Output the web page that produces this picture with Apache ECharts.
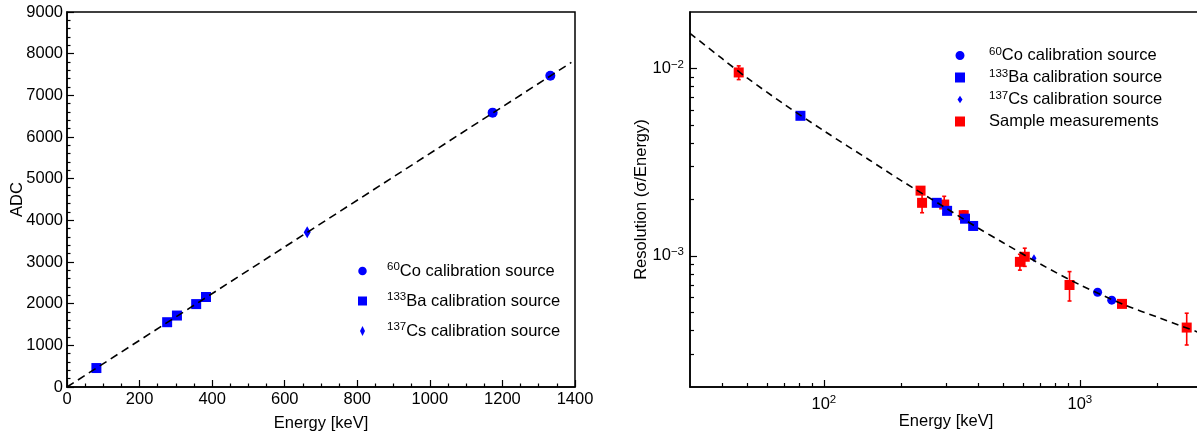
<!DOCTYPE html>
<html>
<head>
<meta charset="utf-8">
<script src="https://cdn.jsdelivr.net/npm/echarts@6/dist/echarts.min.js"></script>
<style>
  html, body { margin: 0; padding: 0; background: #ffffff; }
  #chart { width: 1197px; height: 432px; }
</style>
</head>
<body>
<div id="chart"></div>
<script>
// ---- Left panel: ADC vs. energy calibration ----
const co60Energy = [1173, 1332];
const co60Adc = [6585, 7470];
const ba133Energy = [81, 276, 303, 356, 383];
const ba133Adc = [455, 1555, 1715, 1990, 2160];
const cs137Energy = [662];
const cs137Adc = [3712];
const calibFitEnergy = [0, 1390];
const calibFitAdc = [0, 7790];

// ---- Right panel: energy resolution (sigma / E) ----
const co60Res = [6.40e-4, 5.81e-4];
const ba133Res = [5.59e-3, 1.92e-3, 1.74e-3, 1.58e-3, 1.445e-3];
const cs137Res = [9.72e-4];
const sampleEnergy = [46.5, 238.6, 241.9, 295.2, 351.9, 583.2, 609.3, 911.2, 1460.8, 2614.5];
const sampleRes = [9.52e-3, 2.23e-3, 1.92e-3, 1.88e-3, 1.65e-3, 9.3e-4, 9.9e-4, 7.0e-4, 5.55e-4, 4.15e-4];
const sampleErr = [0.8e-3, 0.05e-3, 0.22e-3, 0.2e-3, 0.09e-3, 0.09e-3, 0.11e-3, 1.25e-4, 0.015e-3, 0.8e-4];
const resFitEnergy = [30, 40, 50, 70, 100, 150, 200, 300, 400, 500, 700, 1000, 1500, 2000, 3000];
const resFitRes = [1.54e-2, 1.13e-2, 8.93e-3, 6.44e-3, 4.65e-3, 3.26e-3, 2.53e-3, 1.80e-3,
                   1.41e-3, 1.18e-3, 9.06e-4, 7.02e-4, 5.47e-4, 4.73e-4, 3.85e-4];

// ---- Tick values for the logarithmic axes ----
const logXMajor = [100, 1000];
const logXMinor = [40, 50, 60, 70, 80, 90, 200, 300, 400, 500, 600, 700, 800, 900, 2000];
const logYMajor = [1e-3, 1e-2];
const logYMinor = [3e-4, 4e-4, 5e-4, 6e-4, 7e-4, 8e-4, 9e-4,
                   2e-3, 3e-3, 4e-3, 5e-3, 6e-3, 7e-3, 8e-3, 9e-3];

// ---- Legend entries ----
const sourceNames = {
  co60: ['60', 'Co calibration source'],
  ba133: ['133', 'Ba calibration source'],
  cs137: ['137', 'Cs calibration source']
};

const FONT = "'Liberation Sans', Arial, Helvetica, sans-serif";
const FS = 16.5;
const BLUE = '#0000ff';
const RED = '#ff0000';

const zip = (xs, ys) => xs.map((x, i) => [x, ys[i]]);

const supRich = {
  base: { fontSize: FS, fontFamily: FONT, color: '#000', lineHeight: 20 },
  sup: { fontSize: 11.5, fontFamily: FONT, color: '#000', lineHeight: 11, verticalAlign: 'top' }
};

function legendText(name) {
  if (name === 'Sample measurements') return '{base|Sample measurements}';
  const key = name.split(' ')[0];
  const parts = sourceNames[key];
  return '{sup|' + parts[0] + '}{base|' + parts[1] + '}';
}

function powerLabel(v) {
  const e = Math.round(Math.log10(v));
  const s = e < 0 ? '\u2212' + (-e) : String(e);
  return '{base|10}{sup|' + s + '}';
}

const plainNumber = (v) => String(v);

const diamondPath = 'path://M2.5,0L5,5L2.5,10L0,5Z';

const axisCommon = {
  axisLine: { show: true, lineStyle: { color: '#000', width: 1.5 } },
  splitLine: { show: false },
  nameTextStyle: { fontSize: FS, fontFamily: FONT, color: '#000' },
  nameLocation: 'middle',
  nameMoveOverlap: false
};

const option = {
  backgroundColor: '#ffffff',
  animation: false,
  textStyle: { fontFamily: FONT },
  grid: [
    { left: 67, top: 12, width: 508, height: 375, outerBoundsMode: 'none', containLabel: false,
      show: true, borderColor: '#000', borderWidth: 1.5, backgroundColor: 'transparent' },
    { left: 690, top: 12, width: 512, height: 375, outerBoundsMode: 'none', containLabel: false,
      show: true, borderColor: '#000', borderWidth: 1.5, backgroundColor: 'transparent' }
  ],
  xAxis: [
    Object.assign({}, axisCommon, {
      gridIndex: 0, type: 'value', min: 0, max: 1400, interval: 200,
      name: 'Energy [keV]', nameGap: 28,
      axisTick: { show: true, inside: true, length: 7, lineStyle: { color: '#000', width: 1.2 } },
      minorTick: { show: true, splitNumber: 4, length: 3.5, lineStyle: { color: '#000', width: 1.2 } },
      axisLabel: { fontSize: FS, fontFamily: FONT, color: '#000', margin: 4, formatter: plainNumber }
    }),
    Object.assign({}, axisCommon, {
      gridIndex: 1, type: 'log', logBase: 10, min: 30, max: 3000, position: 'bottom',
      name: 'Energy [keV]', nameGap: 26,
      axisTick: { show: true, inside: true, length: 7, customValues: logXMajor, lineStyle: { color: '#000', width: 1.2 } },
      axisLabel: { show: true, customValues: logXMajor, margin: 7, formatter: powerLabel, rich: supRich },
      minorTick: { show: false }
    }),
    {
      gridIndex: 1, type: 'log', logBase: 10, min: 30, max: 3000, position: 'bottom',
      axisLine: { show: false }, splitLine: { show: false }, axisLabel: { show: false },
      axisTick: { show: true, inside: true, length: 4, customValues: logXMinor, lineStyle: { color: '#000', width: 1.2 } }
    }
  ],
  yAxis: [
    Object.assign({}, axisCommon, {
      gridIndex: 0, type: 'value', min: 0, max: 9000, interval: 1000,
      name: 'ADC', nameGap: 41,
      axisTick: { show: true, inside: true, length: 7, lineStyle: { color: '#000', width: 1.2 } },
      minorTick: { show: true, splitNumber: 5, length: 3.5, lineStyle: { color: '#000', width: 1.2 } },
      axisLabel: { fontSize: FS, fontFamily: FONT, color: '#000', margin: 4, formatter: plainNumber }
    }),
    Object.assign({}, axisCommon, {
      gridIndex: 1, type: 'log', logBase: 10, min: 2e-4, max: 2e-2, position: 'left',
      name: 'Resolution (\u03c3/Energy)', nameGap: 40,
      axisTick: { show: true, inside: true, length: 7, customValues: logYMajor, lineStyle: { color: '#000', width: 1.2 } },
      axisLabel: { show: true, customValues: logYMajor, margin: 6, formatter: powerLabel, rich: supRich },
      minorTick: { show: false }
    }),
    {
      gridIndex: 1, type: 'log', logBase: 10, min: 2e-4, max: 2e-2, position: 'left',
      axisLine: { show: false }, splitLine: { show: false }, axisLabel: { show: false },
      axisTick: { show: true, inside: true, length: 4, customValues: logYMinor, lineStyle: { color: '#000', width: 1.2 } }
    }
  ],
  legend: [
    {
      orient: 'vertical', left: 358, top: 261, padding: 0,
      itemWidth: 39, itemHeight: 10, itemGap: 10,
      selectedMode: false, symbolKeepAspect: true,
      itemStyle: { borderWidth: 0 },
      textStyle: { fontSize: FS, fontFamily: FONT, color: '#000', lineHeight: 20, rich: supRich },
      formatter: legendText,
      data: [
        { name: 'co60 left', icon: 'path://M4.25,-0.75L4.25,9.25M0,4.25A4.25,4.25,0,1,1,8.5,4.25A4.25,4.25,0,1,1,0,4.25Z' },
        { name: 'ba133 left', icon: 'path://M4.5,-0.5L4.5,9.5M0,0H9V9H0Z' },
        { name: 'cs137 left', icon: diamondPath }
      ]
    },
    {
      orient: 'vertical', left: 955, top: 45.5, padding: 0,
      itemWidth: 48, itemHeight: 10, itemGap: 2,
      selectedMode: false, symbolKeepAspect: true,
      itemStyle: { borderWidth: 0 },
      textStyle: { fontSize: FS, fontFamily: FONT, color: '#000', lineHeight: 20, rich: supRich },
      formatter: legendText,
      data: [
        { name: 'co60 right', icon: 'path://M4.5,-0.5L4.5,9.5M0,4.5A4.5,4.5,0,1,1,9,4.5A4.5,4.5,0,1,1,0,4.5Z' },
        { name: 'ba133 right', icon: 'path://M0,0H10V10H0Z' },
        { name: 'cs137 right', icon: 'path://M2.5,-1.25L2.5,8.75M2.5,0L5,3.75L2.5,7.5L0,3.75Z' },
        { name: 'Sample measurements', icon: 'path://M0,0H10V10H0Z' }
      ]
    }
  ],
  series: [
    // Left panel
    {
      name: 'calibration fit', type: 'line', xAxisIndex: 0, yAxisIndex: 0,
      data: zip(calibFitEnergy, calibFitAdc), showSymbol: false, silent: true,
      lineStyle: { color: '#000', width: 1.6, type: [8, 5] }
    },
    {
      name: 'co60 left', type: 'scatter', xAxisIndex: 0, yAxisIndex: 0,
      data: zip(co60Energy, co60Adc), symbol: 'circle', symbolSize: 10,
      itemStyle: { color: BLUE, opacity: 1 }
    },
    {
      name: 'ba133 left', type: 'scatter', xAxisIndex: 0, yAxisIndex: 0,
      data: zip(ba133Energy, ba133Adc), symbol: 'rect', symbolSize: 10,
      itemStyle: { color: BLUE, opacity: 1 }
    },
    {
      name: 'cs137 left', type: 'scatter', xAxisIndex: 0, yAxisIndex: 0,
      data: zip(cs137Energy, cs137Adc), symbol: diamondPath, symbolSize: [7, 12],
      itemStyle: { color: BLUE, opacity: 1 }
    },
    // Right panel
    {
      name: 'resolution fit', type: 'line', xAxisIndex: 1, yAxisIndex: 1,
      data: zip(resFitEnergy, resFitRes), showSymbol: false, smooth: 0.3, silent: true,
      lineStyle: { color: '#000', width: 1.6, type: [7, 5] }
    },
    {
      name: 'sample errors', type: 'custom', xAxisIndex: 1, yAxisIndex: 1,
      data: sampleEnergy.map((e, i) => [e, sampleRes[i], sampleErr[i]]),
      encode: { x: 0, y: 1 }, silent: true,
      renderItem: function (params, api) {
        const x = api.value(0), y = api.value(1), err = api.value(2);
        const hi = api.coord([x, y + err]);
        const lo = api.coord([x, y - err]);
        const cap = 2;
        const st = { stroke: RED, lineWidth: 1.6 };
        return {
          type: 'group',
          children: [
            { type: 'line', shape: { x1: hi[0], y1: hi[1], x2: lo[0], y2: lo[1] }, style: st },
            { type: 'line', shape: { x1: hi[0] - cap, y1: hi[1], x2: hi[0] + cap, y2: hi[1] }, style: st },
            { type: 'line', shape: { x1: lo[0] - cap, y1: lo[1], x2: lo[0] + cap, y2: lo[1] }, style: st }
          ]
        };
      }
    },
    {
      name: 'Sample measurements', type: 'scatter', xAxisIndex: 1, yAxisIndex: 1,
      data: zip(sampleEnergy, sampleRes), symbol: 'rect', symbolSize: 10,
      itemStyle: { color: RED, opacity: 1 }
    },
    {
      name: 'co60 right', type: 'scatter', xAxisIndex: 1, yAxisIndex: 1,
      data: zip(co60Energy, co60Res), symbol: 'circle', symbolSize: 9,
      itemStyle: { color: BLUE, opacity: 1 }
    },
    {
      name: 'ba133 right', type: 'scatter', xAxisIndex: 1, yAxisIndex: 1,
      data: zip(ba133Energy, ba133Res), symbol: 'rect', symbolSize: 10,
      itemStyle: { color: BLUE, opacity: 1 }
    },
    {
      name: 'cs137 right', type: 'scatter', xAxisIndex: 1, yAxisIndex: 1,
      data: zip(cs137Energy, cs137Res), symbol: diamondPath, symbolSize: [5, 8],
      itemStyle: { color: BLUE, opacity: 1 }
    }
  ]
};

const chart = echarts.init(document.getElementById('chart'), null, { renderer: 'canvas' });
chart.setOption(option);
</script>
</body>
</html>
